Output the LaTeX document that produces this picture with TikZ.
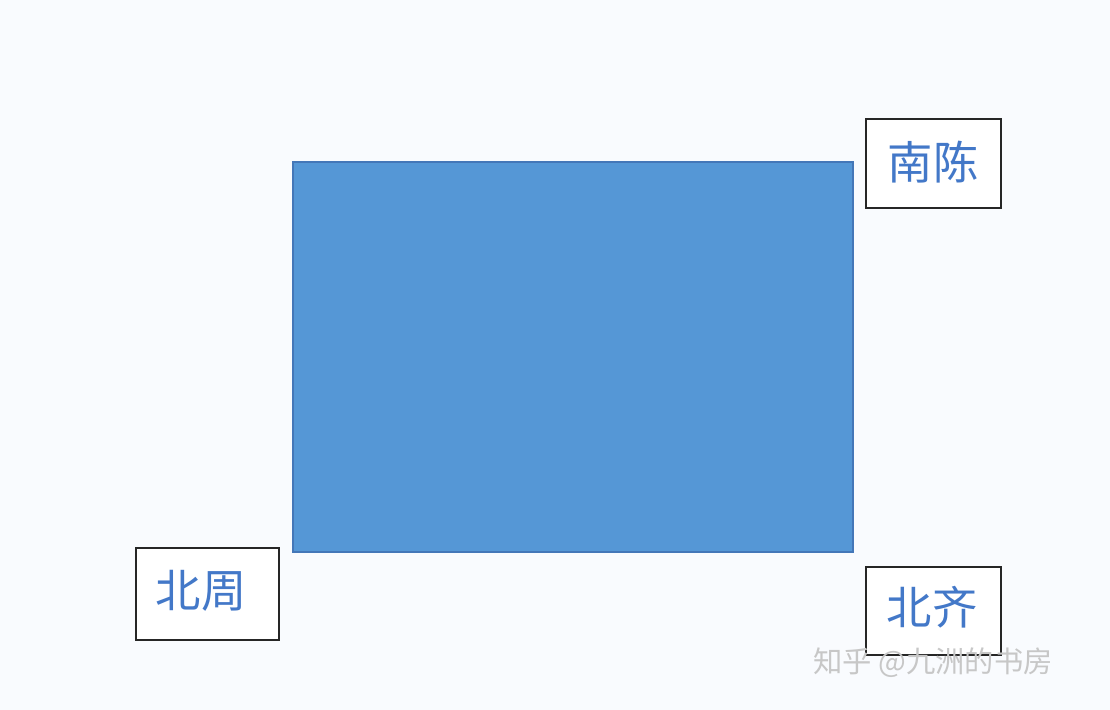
\documentclass[tikz,border=0pt]{standalone}
\usepackage{fontspec}
\newfontfamily\cjk{Noto Sans CJK SC}
\definecolor{bgc}{HTML}{F9FBFE}
\definecolor{rectfill}{HTML}{5597D6}
\definecolor{rectline}{HTML}{4477B8}
\definecolor{txtblue}{HTML}{4378C8}
\tikzset{
  lbox/.style={draw=black!85, line width=1.3pt, fill=white},
  ltext/.style={text=txtblue, font=\cjk\fontsize{34}{40}\selectfont, inner sep=0pt},
  wm/.style={text=black!22, font=\cjk\fontsize{22}{26}\selectfont, inner sep=0pt}
}
\begin{document}
\begin{tikzpicture}[x=0.75pt,y=-0.75pt]
\fill[bgc] (0,0) rectangle (1110,710);
\useasboundingbox (0,0) rectangle (1110,710);
\draw[fill=rectfill, draw=rectline, line width=0.9pt] (293,162) rectangle (853,552);
\draw[lbox] (866,119) rectangle (1001,208);
\draw[lbox] (136,548) rectangle (279,640);
\draw[lbox] (866,567) rectangle (1001,655);
\node[ltext] (nc) at (933,162) {南陈};
\node[ltext] (bz) at (201,591) {北周};
\node[ltext] (bq) at (932,607) {北齐};
\node[wm, anchor=west] (wmk) at (813,663) {知乎 @九洲的书房};
\end{tikzpicture}
\end{document}
